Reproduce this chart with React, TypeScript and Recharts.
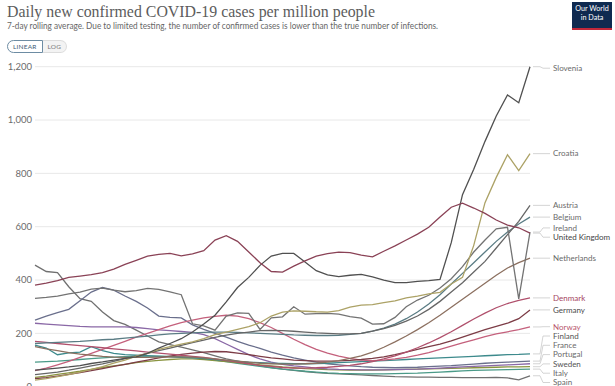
import { CartesianGrid, Line, LineChart, XAxis, YAxis } from 'recharts'

// one category per ~2 days, early Aug -> early Nov
const days = Array.from({ length: 45 }, (_, i) => i)
const yTicks = [0, 200, 400, 600, 800, 1000, 1200]

const slovenia = [62, 66, 70, 74, 79, 87, 93, 100, 106, 112, 125, 145, 162, 180, 205, 235, 268, 318, 372, 410, 455, 490, 500, 500, 468, 435, 419, 413, 418, 421, 412, 400, 390, 390, 395, 398, 402, 540, 720, 815, 920, 1015, 1094, 1065, 1200]
const croatia = [25, 30, 38, 45, 55, 65, 75, 88, 100, 115, 125, 140, 150, 160, 168, 180, 195, 205, 215, 225, 240, 265, 280, 284, 283, 281, 280, 285, 298, 306, 308, 315, 322, 333, 340, 348, 354, 385, 410, 530, 690, 785, 870, 810, 874]
const austria = [45, 50, 55, 62, 70, 78, 86, 95, 105, 115, 125, 135, 145, 155, 165, 175, 185, 193, 200, 205, 210, 211, 210, 208, 205, 202, 200, 198, 198, 200, 208, 218, 230, 246, 265, 290, 320, 355, 390, 430, 470, 520, 570, 620, 680]
const belgium = [162, 164, 166, 168, 170, 173, 176, 178, 182, 186, 190, 194, 198, 200, 202, 204, 205, 205, 204, 202, 200, 198, 196, 194, 193, 192, 192, 193, 196, 200, 208, 220, 235, 255, 280, 310, 345, 385, 425, 465, 505, 545, 580, 610, 636]
const ireland = [331, 335, 340, 348, 355, 366, 370, 362, 356, 360, 369, 365, 356, 345, 236, 228, 212, 265, 277, 275, 215, 258, 262, 300, 272, 274, 275, 272, 263, 257, 235, 236, 260, 300, 325, 343, 370, 405, 450, 505, 550, 592, 598, 329, 580]
const uk = [381, 388, 398, 410, 415, 420, 428, 441, 459, 474, 490, 496, 500, 491, 498, 510, 550, 566, 545, 505, 465, 432, 430, 452, 472, 490, 499, 505, 503, 493, 487, 508, 528, 550, 572, 598, 636, 673, 688, 670, 650, 625, 606, 596, 576]
const netherlands = [150, 142, 135, 128, 122, 118, 114, 111, 110, 110, 110, 111, 112, 112, 111, 108, 104, 100, 96, 92, 88, 86, 85, 85, 86, 88, 92, 98, 106, 116, 130, 148, 168, 190, 214, 240, 268, 298, 328, 358, 388, 418, 445, 465, 482]
const denmark = [170, 166, 162, 158, 154, 150, 146, 142, 138, 134, 130, 126, 122, 118, 114, 110, 104, 98, 92, 86, 80, 76, 72, 70, 70, 71, 73, 76, 80, 86, 94, 104, 116, 130, 146, 164, 184, 206, 230, 254, 276, 296, 312, 324, 333]
const germany = [30, 34, 40, 46, 53, 60, 68, 76, 84, 92, 100, 108, 115, 121, 126, 130, 132, 131, 126, 120, 114, 108, 104, 100, 98, 96, 96, 97, 99, 102, 106, 112, 120, 130, 140, 150, 160, 172, 186, 200, 214, 226, 238, 255, 288]
const norway = [60, 70, 82, 95, 110, 125, 140, 155, 170, 186, 200, 214, 228, 240, 250, 258, 264, 268, 265, 255, 240, 222, 200, 178, 158, 140, 126, 115, 106, 100, 98, 100, 104, 110, 118, 128, 140, 152, 164, 176, 188, 198, 206, 214, 224]
const finland = [156, 145, 120, 127, 130, 150, 135, 125, 120, 118, 116, 114, 112, 110, 108, 105, 102, 98, 95, 92, 90, 88, 87, 86, 86, 87, 88, 90, 92, 94, 96, 98, 100, 102, 104, 106, 108, 110, 112, 114, 116, 118, 120, 121, 123]
const france = [250, 265, 278, 290, 322, 355, 372, 362, 340, 320, 295, 265, 260, 258, 232, 215, 200, 186, 170, 156, 144, 130, 118, 108, 100, 92, 86, 82, 78, 75, 73, 72, 71, 72, 73, 75, 77, 79, 82, 85, 88, 90, 92, 94, 96]
const portugal = [238, 235, 232, 229, 226, 224, 224, 224, 224, 222, 218, 213, 210, 207, 204, 195, 180, 160, 140, 120, 104, 92, 84, 78, 74, 70, 67, 65, 64, 63, 63, 63, 64, 65, 66, 68, 70, 72, 74, 76, 78, 80, 82, 84, 86]
const sweden = [35, 40, 46, 52, 58, 65, 72, 78, 84, 90, 95, 99, 102, 104, 104, 102, 98, 94, 90, 86, 82, 78, 74, 71, 68, 66, 64, 63, 62, 62, 62, 63, 64, 65, 66, 67, 68, 69, 70, 71, 72, 73, 74, 74, 75]
const italy = [92, 94, 96, 99, 102, 105, 108, 111, 113, 114, 115, 115, 114, 112, 110, 106, 100, 94, 88, 82, 76, 71, 66, 62, 58, 55, 52, 50, 49, 48, 48, 48, 49, 50, 51, 53, 55, 57, 59, 61, 62, 63, 64, 65, 66]
const spain = [456, 432, 428, 375, 330, 320, 280, 248, 234, 212, 190, 168, 158, 148, 138, 128, 116, 104, 96, 88, 78, 72, 66, 61, 57, 53, 50, 48, 46, 44, 42, 40, 38, 37, 36, 36, 35, 35, 34, 34, 34, 35, 33, 26, 41]

const series = [
  { name: 'Spain', values: spain, color: '#707070', text: '#6a6a6a' },
  { name: 'Italy', values: italy, color: '#4a9a88', text: '#6a6a6a' },
  { name: 'Sweden', values: sweden, color: '#8a9440', text: '#555' },
  { name: 'Portugal', values: portugal, color: '#8a68a6', text: '#6a6a6a' },
  { name: 'France', values: france, color: '#6a6f8c', text: '#6a6a6a' },
  { name: 'Finland', values: finland, color: '#3d8a8c', text: '#555' },
  { name: 'Norway', values: norway, color: '#c4607c', text: '#b8566e' },
  { name: 'Germany', values: germany, color: '#7c3c46', text: '#4a4a4a' },
  { name: 'Denmark', values: denmark, color: '#b0506c', text: '#a5465f' },
  { name: 'Netherlands', values: netherlands, color: '#8c7060', text: '#6a6a6a' },
  { name: 'Belgium', values: belgium, color: '#5a7c84', text: '#6a6a6a' },
  { name: 'Austria', values: austria, color: '#666666', text: '#6a6a6a' },
  { name: 'Ireland', values: ireland, color: '#737373', text: '#6a6a6a' },
  { name: 'Croatia', values: croatia, color: '#aca266', text: '#6a6a6a' },
  { name: 'Slovenia', values: slovenia, color: '#505050', text: '#6a6a6a' },
  { name: 'United Kingdom', values: uk, color: '#8a4256', text: '#444' },
]

const rows = days.map((d, i) => {
  const row: Record<string, number> = { day: d }
  series.forEach((s) => { row[s.name] = s.values[i] })
  return row
})

const PLOT_TOP = 66.7
const PLOT_H = 320
const Y_MAX = 1200
const LABEL_GAP = 9.3
const LAST = days.length - 1

// push end labels apart so they do not overlap
function spreadLabels() {
  const items = series.map((s) => {
    const base = PLOT_TOP + PLOT_H * (1 - s.values[LAST] / Y_MAX)
    return { name: s.name, base, y: base }
  })
  items.sort((a, b) => a.y - b.y)
  for (let k = 0; k < 300; k++) {
    for (let j = 1; j < items.length; j++) {
      const overlap = LABEL_GAP - (items[j].y - items[j - 1].y)
      if (overlap > 0) {
        items[j - 1].y -= overlap / 2
        items[j].y += overlap / 2
      }
    }
    items.forEach((it) => { it.y = Math.min(Math.max(it.y, PLOT_TOP + 1.5), 382.5) })
  }
  const shift: Record<string, number> = {}
  items.forEach((it) => { shift[it.name] = it.y - it.base })
  return shift
}

const labelShift = spreadLabels()

function endLabel(s: (typeof series)[number]) {
  return (p: any) => {
    const key = `${s.name}-${p.index}`
    if (p.index !== LAST) return <g key={key} />
    const ly = p.cy + labelShift[s.name]
    return (
      <g key={key}>
        <polyline
          points={`${p.cx + 3},${p.cy} ${p.cx + 10},${p.cy} ${p.cx + 13},${ly} ${p.cx + 20},${ly}`}
          fill="none"
          stroke="#c9c9c9"
          strokeWidth={0.8}
        />
        <text x={p.cx + 23} y={ly} dy="0.35em" fontSize={8} fill={s.text} fontFamily="Lato, sans-serif">
          {s.name}
        </text>
      </g>
    )
  }
}

export default function App() {
  return (
    <div style={{ position: 'absolute', left: 0, top: 0, width: 615, height: 386, overflow: 'hidden', background: '#fff', fontFamily: 'Lato, sans-serif' }}>
      <svg width={615} height={36} style={{ position: 'absolute', left: 0, top: 0 }}>
        <text x={7} y={17} fontSize={17} fill="#5c5c5c" fontFamily="'Liberation Serif', 'DejaVu Serif', serif" textLength={368} lengthAdjust="spacingAndGlyphs">
          Daily new confirmed COVID-19 cases per million people
        </text>
        <text x={7} y={28.5} fontSize={8.5} fill="#666" fontFamily="Lato, sans-serif" textLength={431} lengthAdjust="spacingAndGlyphs">
          7-day rolling average. Due to limited testing, the number of confirmed cases is lower than the true number of infections.
        </text>
      </svg>

      <div style={{ position: 'absolute', left: 7, top: 40, display: 'flex', fontSize: 6.5, letterSpacing: 0.2 }}>
        <div style={{ border: '1px solid #6d8ca3', borderRadius: '7px 0 0 7px', padding: '0 5px', height: 11, lineHeight: '11px', color: '#3d5b76' }}>LINEAR</div>
        <div style={{ border: '1px solid #dcdcdc', borderLeft: 'none', borderRadius: '0 7px 7px 0', padding: '0 5px', height: 11, lineHeight: '11px', color: '#777', background: '#f3f3f3' }}>LOG</div>
      </div>

      <div style={{ position: 'absolute', left: 572, top: 2, width: 40, height: 23, background: '#0f2a50', borderBottom: '2px solid #c0283a', color: '#fff', fontSize: 7.2, lineHeight: '8.5px', textAlign: 'center', paddingTop: 3, boxSizing: 'content-box' }}>
        Our World<br />in Data
      </div>

      <div style={{ position: 'absolute', left: 0, top: 0 }}>
        <LineChart width={615} height={400} data={rows} margin={{ top: PLOT_TOP, right: 85, bottom: 400 - PLOT_TOP - PLOT_H, left: 0 }}>
          <CartesianGrid vertical={false} stroke="#e8e8e8" />
          <XAxis dataKey="day" hide />
          <YAxis
            width={35}
            domain={[0, Y_MAX]}
            ticks={yTicks}
            tickLine={false}
            axisLine={false}
            tickSize={0}
            tickMargin={3}
            tickFormatter={(v: number) => v.toLocaleString('en-US')}
            tick={{ fill: '#6b6b6b', fontSize: 9.5, fontFamily: 'Lato, sans-serif' }}
          />
          {series.map((s) => (
            <Line
              key={s.name}
              type="linear"
              dataKey={s.name}
              stroke={s.color}
              strokeWidth={1.3}
              dot={endLabel(s)}
              activeDot={false}
              isAnimationActive={false}
            />
          ))}
        </LineChart>
      </div>
    </div>
  )
}
